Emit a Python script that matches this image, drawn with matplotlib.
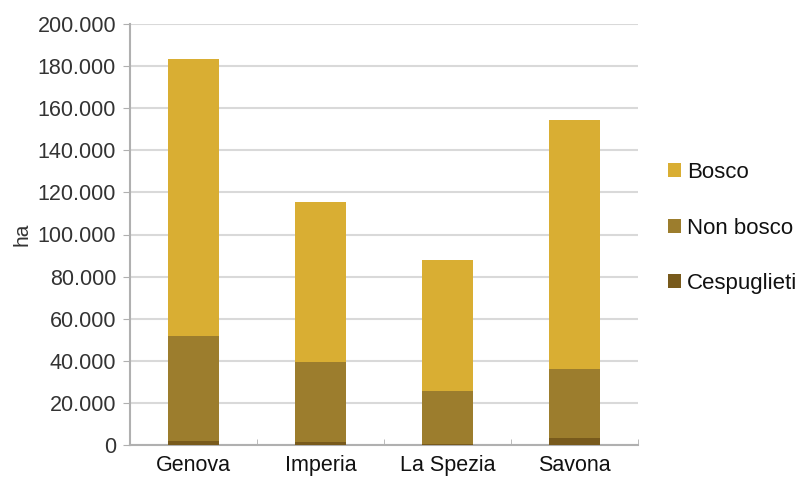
import numpy as np
import matplotlib.pyplot as plt
from matplotlib.ticker import FuncFormatter

plt.rcParams['font.family'] = ['Liberation Sans', 'DejaVu Sans']

province = ['Genova', 'Imperia', 'La Spezia', 'Savona']
cespuglieti = [2000, 1500, 300, 3500]
non_bosco = [49800, 37900, 25350, 32600]
bosco = [131700, 76000, 62250, 118300]

c_bosco = '#d9ae33'
c_non = '#9c7d2d'
c_cesp = '#785a1c'

fig = plt.figure(figsize=(7.97, 4.83), dpi=100)
ax = fig.add_axes([130/797, 1-445/483, 508/797, 421/483])

x = np.arange(len(province))
w = 0.4
ax.bar(x, cespuglieti, w, color=c_cesp, label='Cespuglieti', zorder=3)
ax.bar(x, non_bosco, w, bottom=cespuglieti, color=c_non, label='Non bosco', zorder=3)
bot2 = np.array(cespuglieti) + np.array(non_bosco)
ax.bar(x, bosco, w, bottom=bot2, color=c_bosco, label='Bosco', zorder=3)

ax.set_xlim(-0.5, 3.5)
ax.set_ylim(0, 200000)
ax.set_yticks(np.arange(0, 200001, 20000))
ax.yaxis.set_major_formatter(FuncFormatter(lambda v, p: f'{int(v):,}'.replace(',', '.')))
ax.yaxis.grid(True, color='#d9d9d9', linewidth=1.5, zorder=0)

ax.set_xticks(x)
ax.set_xticklabels(province, fontsize=15.5, color='#111111')
ax.set_xticks(np.arange(-0.5, 4, 1), minor=True)
ax.tick_params(axis='x', which='major', length=0, pad=7)
ax.tick_params(axis='x', which='minor', length=4, color='#b0b0b0', direction='in')
ax.tick_params(axis='y', length=5, color='#b0b0b0', labelsize=15.5, labelcolor='#333333', pad=5)

for s in ['top', 'right']:
    ax.spines[s].set_visible(False)
for s in ['left', 'bottom']:
    ax.spines[s].set_color('#b0b0b0')
    ax.spines[s].set_linewidth(1.5)

ax.set_ylabel('ha', fontsize=15, color='#333333', labelpad=4)

h, l = ax.get_legend_handles_labels()
ax.legend(h[::-1], l[::-1], loc='center left', bbox_to_anchor=(1.02, 0.515),
          frameon=False, fontsize=16, handlelength=0.6, handleheight=0.6,
          handletextpad=0.25, labelspacing=1.55, labelcolor='#111111')

fig.savefig('out.png', dpi=100)
